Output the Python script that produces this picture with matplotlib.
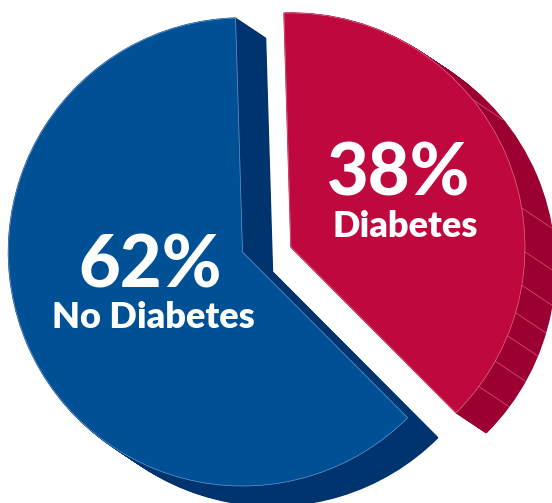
import matplotlib
matplotlib.use('Agg')
import matplotlib.pyplot as plt
import numpy as np

# shares of the two groups (first slice starts at the top, runs clockwise)
labels = ['Diabetes', 'No Diabetes']
shares = [38, 62]

face_colors = ['#BE083E', '#005096']
side_colors = ['#9B0030', '#00346E']
edge_colors = ['#E46A8C', '#6C9AD0']

W, H = 552, 503
fig = plt.figure(figsize=(W / 100, H / 100), dpi=100)
ax = fig.add_axes([0, 0, 1, 1])

center = (242.5, 251)
radius = 234
start = 91.7
pull_out = (48.5, 5)    # shift of the Diabetes slice
depth = (30, -20)       # direction of the extrusion
steps = 40


def draw_pie(offset, colors, zorder, edgecolors=None, lw=1.0):
    cx, cy = center[0] + offset[0], center[1] + offset[1]
    wedges, _ = ax.pie(shares, colors=colors, startangle=start,
                       counterclock=False, center=(cx, cy), radius=radius,
                       frame=True)
    wc = wedges[0].center
    wedges[0].set_center((wc[0] + pull_out[0], wc[1] + pull_out[1]))
    for i, w in enumerate(wedges):
        w.set_zorder(zorder)
        w.set_edgecolor(edgecolors[i] if edgecolors else colors[i])
        w.set_linewidth(lw)
    return wedges


# stacked dark copies make the side walls
for t in np.linspace(1, 0, steps):
    draw_pie((depth[0] * t, depth[1] * t), side_colors, zorder=1)

front = draw_pie((0, 0), face_colors, zorder=3, edgecolors=edge_colors, lw=0.5)

# thin facet lines on the red wall
facet_angles = [39, 9.6, -1.2, -9.4, -16.3, -22.3, -29.2, -36.6]
rc = front[0].center
for a in facet_angles:
    x0 = rc[0] + radius * np.cos(np.radians(a))
    y0 = rc[1] + radius * np.sin(np.radians(a))
    ax.plot([x0, x0 + depth[0]], [y0, y0 + depth[1]], color='#D24A72',
            lw=0.6, zorder=2)

# percentage labels
text_pos = [(399, 308, 405, 266), (150, 215, 153, 175)]
for i, (px, py, lx, ly) in enumerate(text_pos):
    ax.text(px, py, f'{shares[i]}%', color='white', fontsize=52,
            fontfamily='Lato', fontweight='black', ha='center', va='baseline',
            zorder=5)
    ax.text(lx, ly, labels[i], color='white', fontsize=26,
            fontfamily='Lato', fontweight='heavy', ha='center', va='baseline',
            zorder=5)

ax.set_xlim(0, W)
ax.set_ylim(0, H)
ax.set_aspect('equal')
ax.axis('off')

fig.savefig('out.png', dpi=100, facecolor='white')
